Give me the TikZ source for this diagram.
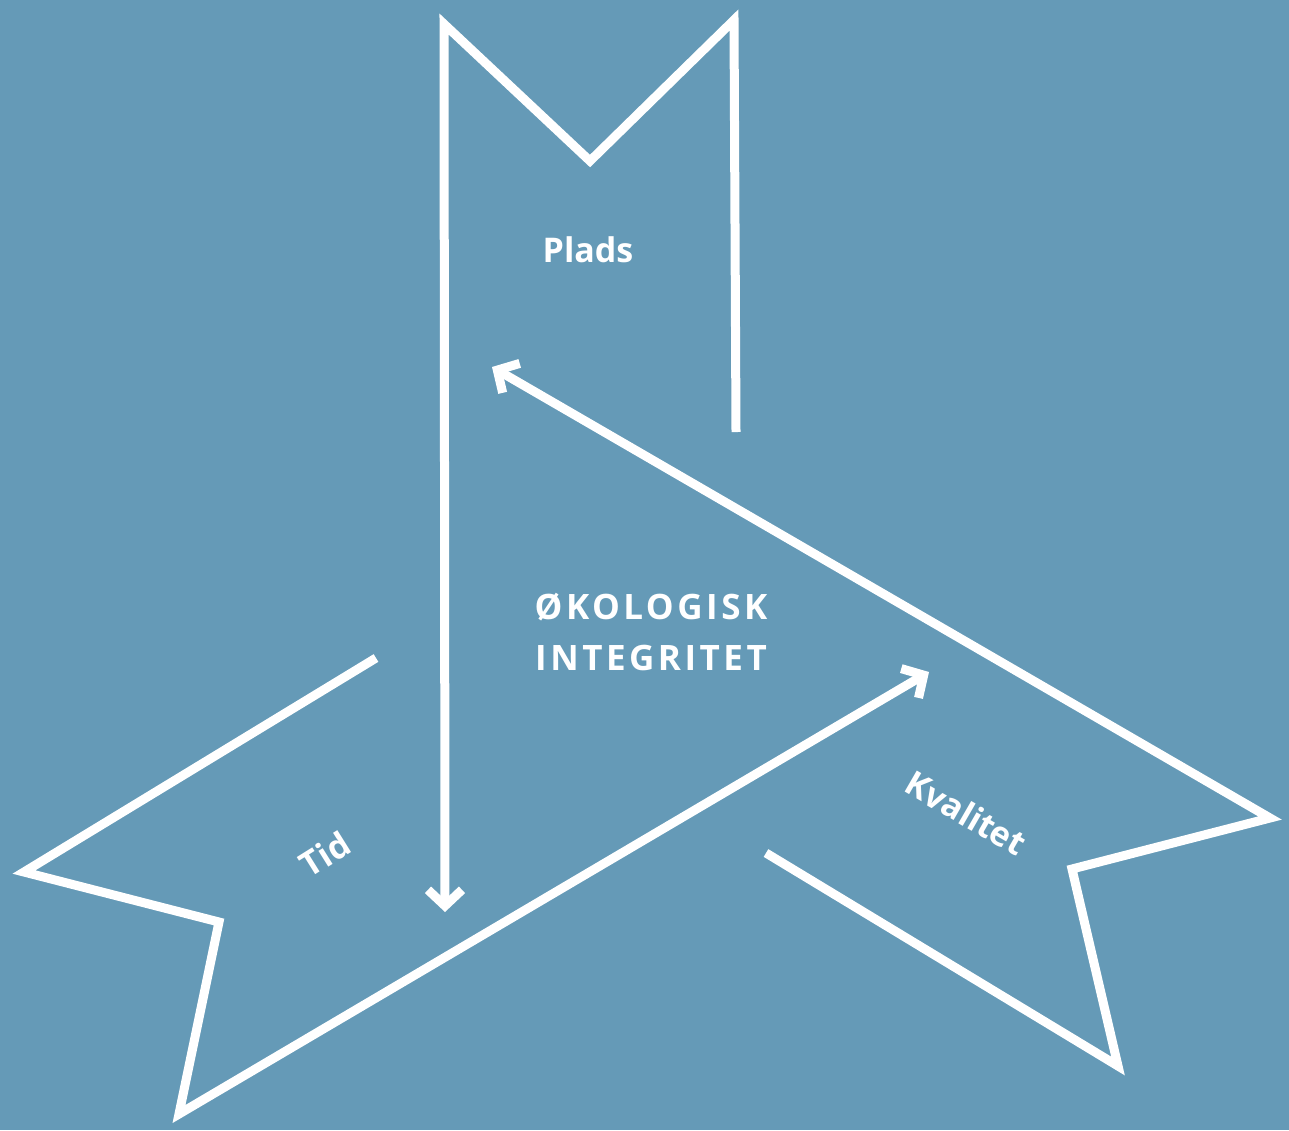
\documentclass[tikz,border=0pt]{standalone}
\usepackage{fontspec}
\setmainfont{Open Sans}
\newfontfamily\spacedfont{Open Sans}[LetterSpace=10]
\usetikzlibrary{arrows.meta}
\definecolor{bg}{RGB}{101,154,183}
\begin{document}
\begin{tikzpicture}[x=1pt,y=-1pt,
  band/.style={draw=white,line width=9pt,line join=miter,line cap=butt},
  tipped/.style={-{Straight Barb[sharp,length=16pt,width=34pt]}},
  lbl/.style={text=white,inner sep=0pt,font=\bfseries\fontsize{34}{50}\selectfont}]
\fill[bg] (0,0) rectangle (1289,1130);
\useasboundingbox (0,0) rectangle (1289,1130);
% Plads banner
\coordinate (pR) at (736,432);
\coordinate (pTR) at (734,20);
\coordinate (pV) at (590,161);
\coordinate (pTL) at (444,24);
\coordinate (pA) at (445,912);
% Tid banner
\coordinate (tS) at (376,658);
\coordinate (tL) at (24,872);
\coordinate (tI) at (219,922);
\coordinate (tB) at (179,1114);
\coordinate (tA) at (929,672);
% Kvalitet banner
\coordinate (kS) at (766,853);
\coordinate (kB) at (1118,1066);
\coordinate (kI) at (1072,869);
\coordinate (kR) at (1270,818);
\coordinate (kA) at (492,367);
\draw[band,tipped] (pR) -- (pTR) -- (pV) -- (pTL) -- (pA);
\draw[band,tipped] (tS) -- (tL) -- (tI) -- (tB) -- (tA);
\draw[band,tipped] (kS) -- (kB) -- (kI) -- (kR) -- (kA);
\node[lbl] (plads) at (588,250) {Plads};
\node[lbl,align=center,font=\spacedfont\bfseries\fontsize{35}{51}\selectfont] (oeko) at (651,632) {ØKOLOGISK\\INTEGRITET};
\node[lbl,rotate=32] (tid) at (325,854) {Tid};
\node[lbl,rotate=-30] (kval) at (966,813) {Kvalitet};
\end{tikzpicture}
\end{document}
